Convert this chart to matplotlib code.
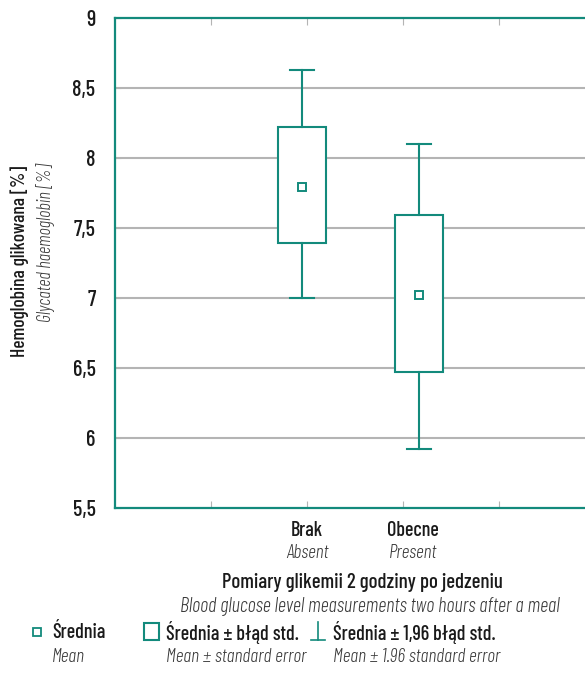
import matplotlib
matplotlib.use("Agg")
import matplotlib.pyplot as plt
from matplotlib import font_manager as fm
from matplotlib.patches import Rectangle

# ---- data ----
categories_pl = ["Brak", "Obecne"]
categories_en = ["Absent", "Present"]
means = [7.79, 7.02]
se_low = [7.39, 6.47]
se_high = [8.22, 7.59]
ci_low = [7.00, 5.92]
ci_high = [8.63, 8.10]
yticks = [5.5, 6, 6.5, 7, 7.5, 8, 8.5, 9]
ytick_labels = ["5,5", "6", "6,5", "7", "7,5", "8", "8,5", "9"]

TEAL = "#138a7c"
GRID = "#b4b4b4"
DARK = "#1a1a1a"
GRAY = "#3a3a3a"

names = {f.name for f in fm.fontManager.ttflist}
FONT = "DejaVu Sans"
for cand in ["Barlow Condensed", "Asap Condensed", "Archivo Narrow", "Liberation Sans Narrow"]:
    if cand in names:
        FONT = cand
        break
plt.rcParams["font.family"] = [FONT, "DejaVu Sans"]

BOLD = dict(color=DARK, fontweight=500)
ITAL = dict(color=GRAY, style="italic", fontweight=300)

W, H = 585, 690
fig = plt.figure(figsize=(W / 100, H / 100), dpi=100)

# main axes: left 115px, top 18px, bottom 508px, extends past right edge
ax = fig.add_axes([115 / W, 1 - 508 / H, 480 / W, 490 / H])
ax.set_xlim(0, 5)
ax.set_ylim(5.5, 9)

positions = [1.95, 3.17]
box_w = 0.5
cap_w = 0.25

for p, m, sl, sh, cl, ch in zip(positions, means, se_low, se_high, ci_low, ci_high):
    ax.add_patch(Rectangle((p - box_w / 2, sl), box_w, sh - sl, facecolor="white",
                           edgecolor=TEAL, lw=1.5, zorder=3))
    ax.plot([p, p], [sh, ch], color=TEAL, lw=1.5, zorder=3)
    ax.plot([p, p], [cl, sl], color=TEAL, lw=1.5, zorder=3)
    ax.plot([p - cap_w / 2, p + cap_w / 2], [ch, ch], color=TEAL, lw=1.5, zorder=3)
    ax.plot([p - cap_w / 2, p + cap_w / 2], [cl, cl], color=TEAL, lw=1.5, zorder=3)
    ax.plot([p], [m], marker="s", ms=5.8, mfc="white", mec=TEAL, mew=1.4, zorder=4)

for y in yticks[1:-1]:
    ax.axhline(y, color=GRID, lw=1.5, zorder=1)

ax.set_yticks(yticks)
ax.set_yticklabels(ytick_labels, fontsize=16, **BOLD)
ax.tick_params(axis="y", direction="in", length=4, color=GRID, pad=14)
ax.set_xticks([1, 2, 3, 4])
ax.set_xticklabels([])
ax.tick_params(axis="x", direction="in", length=5, color=GRID, top=True, bottom=True)

for s in ["left", "bottom", "top"]:
    ax.spines[s].set_color(TEAL)
    ax.spines[s].set_linewidth(1.6)
ax.spines["right"].set_visible(False)

def px(x, y):
    return x / W, 1 - y / H

# category labels
label_x = [307, 413]
for lx, pl, en in zip(label_x, categories_pl, categories_en):
    fig.text(*px(lx, 531), pl, ha="center", va="center", fontsize=14.5, **BOLD)
    fig.text(*px(lx, 553), en, ha="center", va="center", fontsize=14, **ITAL)

# y axis title
fig.text(*px(20, 261), "Hemoglobina glikowana [%]", rotation=90, ha="center",
         va="center", fontsize=14, **BOLD)
fig.text(*px(46, 243), "Glycated haemoglobin [%]", rotation=90, ha="center",
         va="center", fontsize=13.2, **ITAL)

# x axis title
fig.text(*px(362, 582), "Pomiary glikemii 2 godziny po jedzeniu", ha="center",
         va="center", fontsize=15, **BOLD)
fig.text(*px(370, 607), "Blood glucose level measurements two hours after a meal",
         ha="center", va="center", fontsize=14.6, **ITAL)

# legend overlay
lg = fig.add_axes([0, 0, 1, 1], facecolor="none")
lg.set_xlim(0, W)
lg.set_ylim(H, 0)
lg.axis("off")
lg.plot([37], [632], marker="s", ms=5.5, mfc="white", mec=TEAL, mew=1.3)
lg.add_patch(Rectangle((144, 623), 15, 17, facecolor="white", edgecolor=TEAL, lw=1.5))
lg.plot([318, 318], [622, 640], color=TEAL, lw=1.2)
lg.plot([311, 325], [640, 640], color=TEAL, lw=1.2)

leg_items = [(52, "Średnia", "Mean"),
             (166, "Średnia ± błąd std.", "Mean ± standard error"),
             (333, "Średnia ± 1,96 błąd std.", "Mean ± 1.96 standard error")]
for x, pl, en in leg_items:
    lg.text(x, 632, pl, ha="left", va="center", fontsize=14.5, **BOLD)
    lg.text(x, 657, en, ha="left", va="center", fontsize=14, **ITAL)

fig.savefig("out.png", dpi=100)
